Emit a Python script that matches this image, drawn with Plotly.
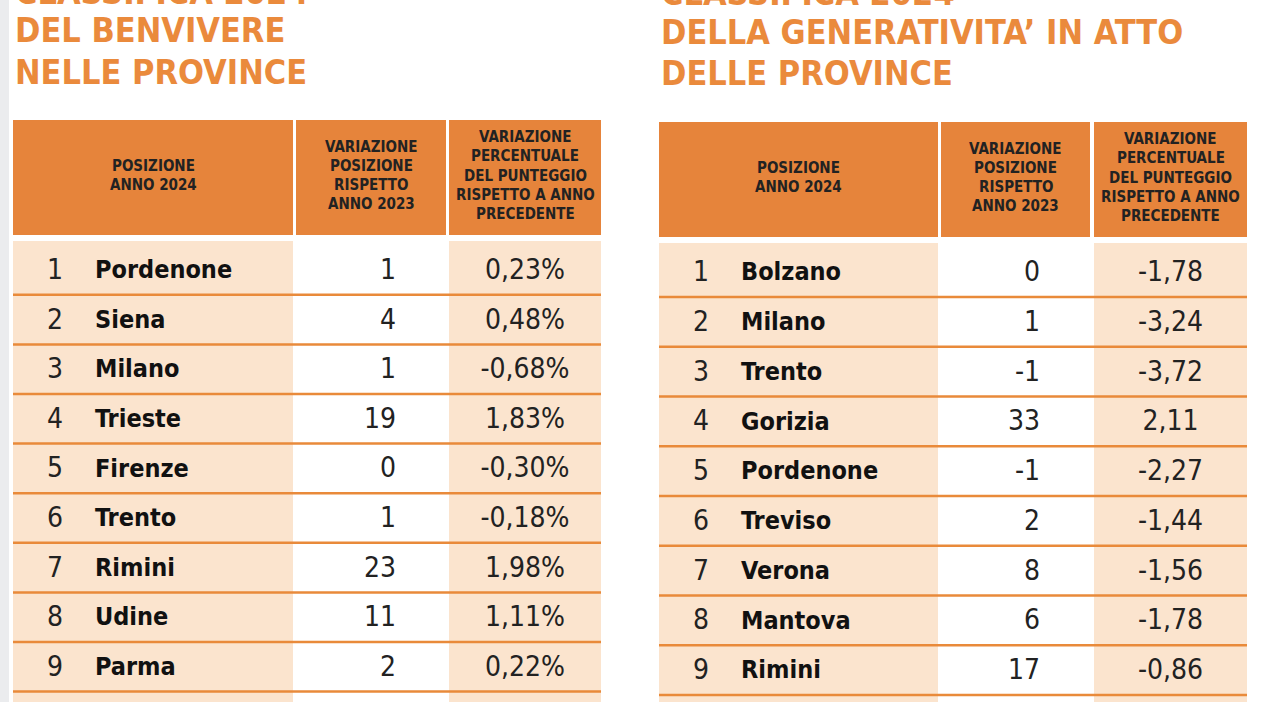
import plotly.graph_objects as go

# ---------------- data ----------------
title_left = ["CLASSIFICA 2024", "DEL BENVIVERE", "NELLE PROVINCE"]
title_right = ["CLASSIFICA 2024", "DELLA GENERATIVITA’ IN ATTO", "DELLE PROVINCE"]

header_col1 = ["POSIZIONE", "ANNO 2024"]
header_col2 = ["VARIAZIONE", "POSIZIONE", "RISPETTO", "ANNO 2023"]
header_col3 = ["VARIAZIONE", "PERCENTUALE", "DEL PUNTEGGIO", "RISPETTO A ANNO", "PRECEDENTE"]

benv_rank = [1, 2, 3, 4, 5, 6, 7, 8, 9]
benv_prov = ["Pordenone", "Siena", "Milano", "Trieste", "Firenze", "Trento", "Rimini", "Udine", "Parma"]
benv_var_pos = [1, 4, 1, 19, 0, 1, 23, 11, 2]
benv_var_pct = [0.23, 0.48, -0.68, 1.83, -0.30, -0.18, 1.98, 1.11, 0.22]

gen_rank = [1, 2, 3, 4, 5, 6, 7, 8, 9]
gen_prov = ["Bolzano", "Milano", "Trento", "Gorizia", "Pordenone", "Treviso", "Verona", "Mantova", "Rimini"]
gen_var_pos = [0, 1, -1, 33, -1, 2, 8, 6, 17]
gen_var_pct = [-1.78, -3.24, -3.72, 2.11, -2.27, -1.44, -1.56, -1.78, -0.86]

# ---------------- style / layout ----------------
W, H = 1280, 702
ORANGE = "#E6843B"
TITLE_ORANGE = "#EA8A3C"
PEACH = "#FBE4CE"
LINE = "#E98A3A"
GREY_STRIP = "#EBECEE"
DARK = "#222222"
NARROW = "'DejaVu Sans Condensed', 'Liberation Sans Narrow', 'Arial Narrow', sans-serif"


def fmt_pct(v, suffix):
    s = f"{v:.2f}".replace(".", ",")
    return s + suffix


tables = [
    dict(title=title_left, title_x=13, title_y=[-8, 30, 72], title_size=34,
         cols=[(13, 293), (296, 446), (449, 601)], htop=120, hbot=235, btop=241,
         row1=270, pitch=49.6, rank=benv_rank, prov=benv_prov, vpos=benv_var_pos,
         vpct=[fmt_pct(v, "%") for v in benv_var_pct]),
    dict(title=title_right, title_x=659, title_y=[-7, 32, 73], title_size=34,
         cols=[(659, 938), (941, 1090), (1094, 1247)], htop=122, hbot=237, btop=243,
         row1=272, pitch=49.75, rank=gen_rank, prov=gen_prov, vpos=gen_var_pos,
         vpct=[fmt_pct(v, "") for v in gen_var_pct]),
]

fig = go.Figure()
shapes = []
annotations = []

# grey strip on the far left
shapes.append(dict(type="rect", xref="x", yref="y", x0=0, x1=9, y0=0, y1=H,
                   fillcolor=GREY_STRIP, line=dict(width=0), layer="below"))

for t in tables:
    (c1a, c1b), (c2a, c2b), (c3a, c3b) = t["cols"]
    # header cells
    for (xa, xb) in t["cols"]:
        shapes.append(dict(type="rect", xref="x", yref="y", x0=xa, x1=xb,
                           y0=t["htop"], y1=t["hbot"], fillcolor=ORANGE,
                           line=dict(width=0), layer="below"))
    # body backgrounds (col 1 and col 3 peach, col 2 white)
    for (xa, xb) in [(c1a, c1b), (c3a, c3b)]:
        shapes.append(dict(type="rect", xref="x", yref="y", x0=xa, x1=xb,
                           y0=t["btop"], y1=H + 20, fillcolor=PEACH,
                           line=dict(width=0), layer="below"))
    n = len(t["rank"])
    ys = [t["row1"] + i * t["pitch"] for i in range(n)]
    ys_txt = [y + 2 for y in ys]
    # separator lines under each row
    for y in ys:
        yl = y + t["pitch"] / 2
        shapes.append(dict(type="line", xref="x", yref="y", x0=c1a, x1=c3b,
                           y0=yl, y1=yl, line=dict(color=LINE, width=2.5),
                           layer="below"))

    # header texts
    hmid = (t["htop"] + t["hbot"]) / 2 - 2
    lh = 19.3
    for lines, (xa, xb) in zip([header_col1, header_col2, header_col3], t["cols"]):
        k = len(lines)
        for j, txt in enumerate(lines):
            annotations.append(dict(
                x=(xa + xb) / 2, y=hmid + (j - (k - 1) / 2) * lh, xref="x", yref="y",
                text=txt, showarrow=False, xanchor="center", yanchor="middle",
                font=dict(family=NARROW, size=15, color=DARK, weight=700)))

    # title lines (paper-referenced so the cut-off top line can be drawn)
    for txt, ty in zip(t["title"], t["title_y"]):
        annotations.append(dict(
            x=t["title_x"] / W, y=1 - ty / H, xref="paper", yref="paper",
            text=txt, showarrow=False, xanchor="left", yanchor="middle",
            font=dict(family=NARROW, size=t["title_size"], color=TITLE_ORANGE, weight=700)))

    # body text
    fig.add_trace(go.Scatter(
        x=[c1a + 42] * n, y=ys_txt, mode="text", text=[str(r) for r in t["rank"]],
        textposition="middle center", cliponaxis=False, hoverinfo="skip",
        textfont=dict(family=NARROW, size=28, color=DARK)))
    fig.add_trace(go.Scatter(
        x=[c1a + 82] * n, y=ys_txt, mode="text", text=t["prov"],
        textposition="middle right", cliponaxis=False, hoverinfo="skip",
        textfont=dict(family=NARROW, size=25, color="#111111", weight=700)))
    fig.add_trace(go.Scatter(
        x=[c2b - 50] * n, y=ys_txt, mode="text", text=[str(v) for v in t["vpos"]],
        textposition="middle left", cliponaxis=False, hoverinfo="skip",
        textfont=dict(family=NARROW, size=28, color=DARK)))
    fig.add_trace(go.Scatter(
        x=[(c3a + c3b) / 2] * n, y=ys_txt, mode="text", text=t["vpct"],
        textposition="middle center", cliponaxis=False, hoverinfo="skip",
        textfont=dict(family=NARROW, size=28, color=DARK)))

fig.update_layout(
    width=W, height=H, margin=dict(l=0, r=0, t=0, b=0, pad=0),
    paper_bgcolor="white", plot_bgcolor="white", showlegend=False,
    xaxis=dict(range=[0, W], visible=False, fixedrange=True),
    yaxis=dict(range=[H, 0], visible=False, fixedrange=True),
    shapes=shapes, annotations=annotations,
)

fig.write_html("out.html", config={"displayModeBar": False},
               post_script="document.body.style.margin='0';")
